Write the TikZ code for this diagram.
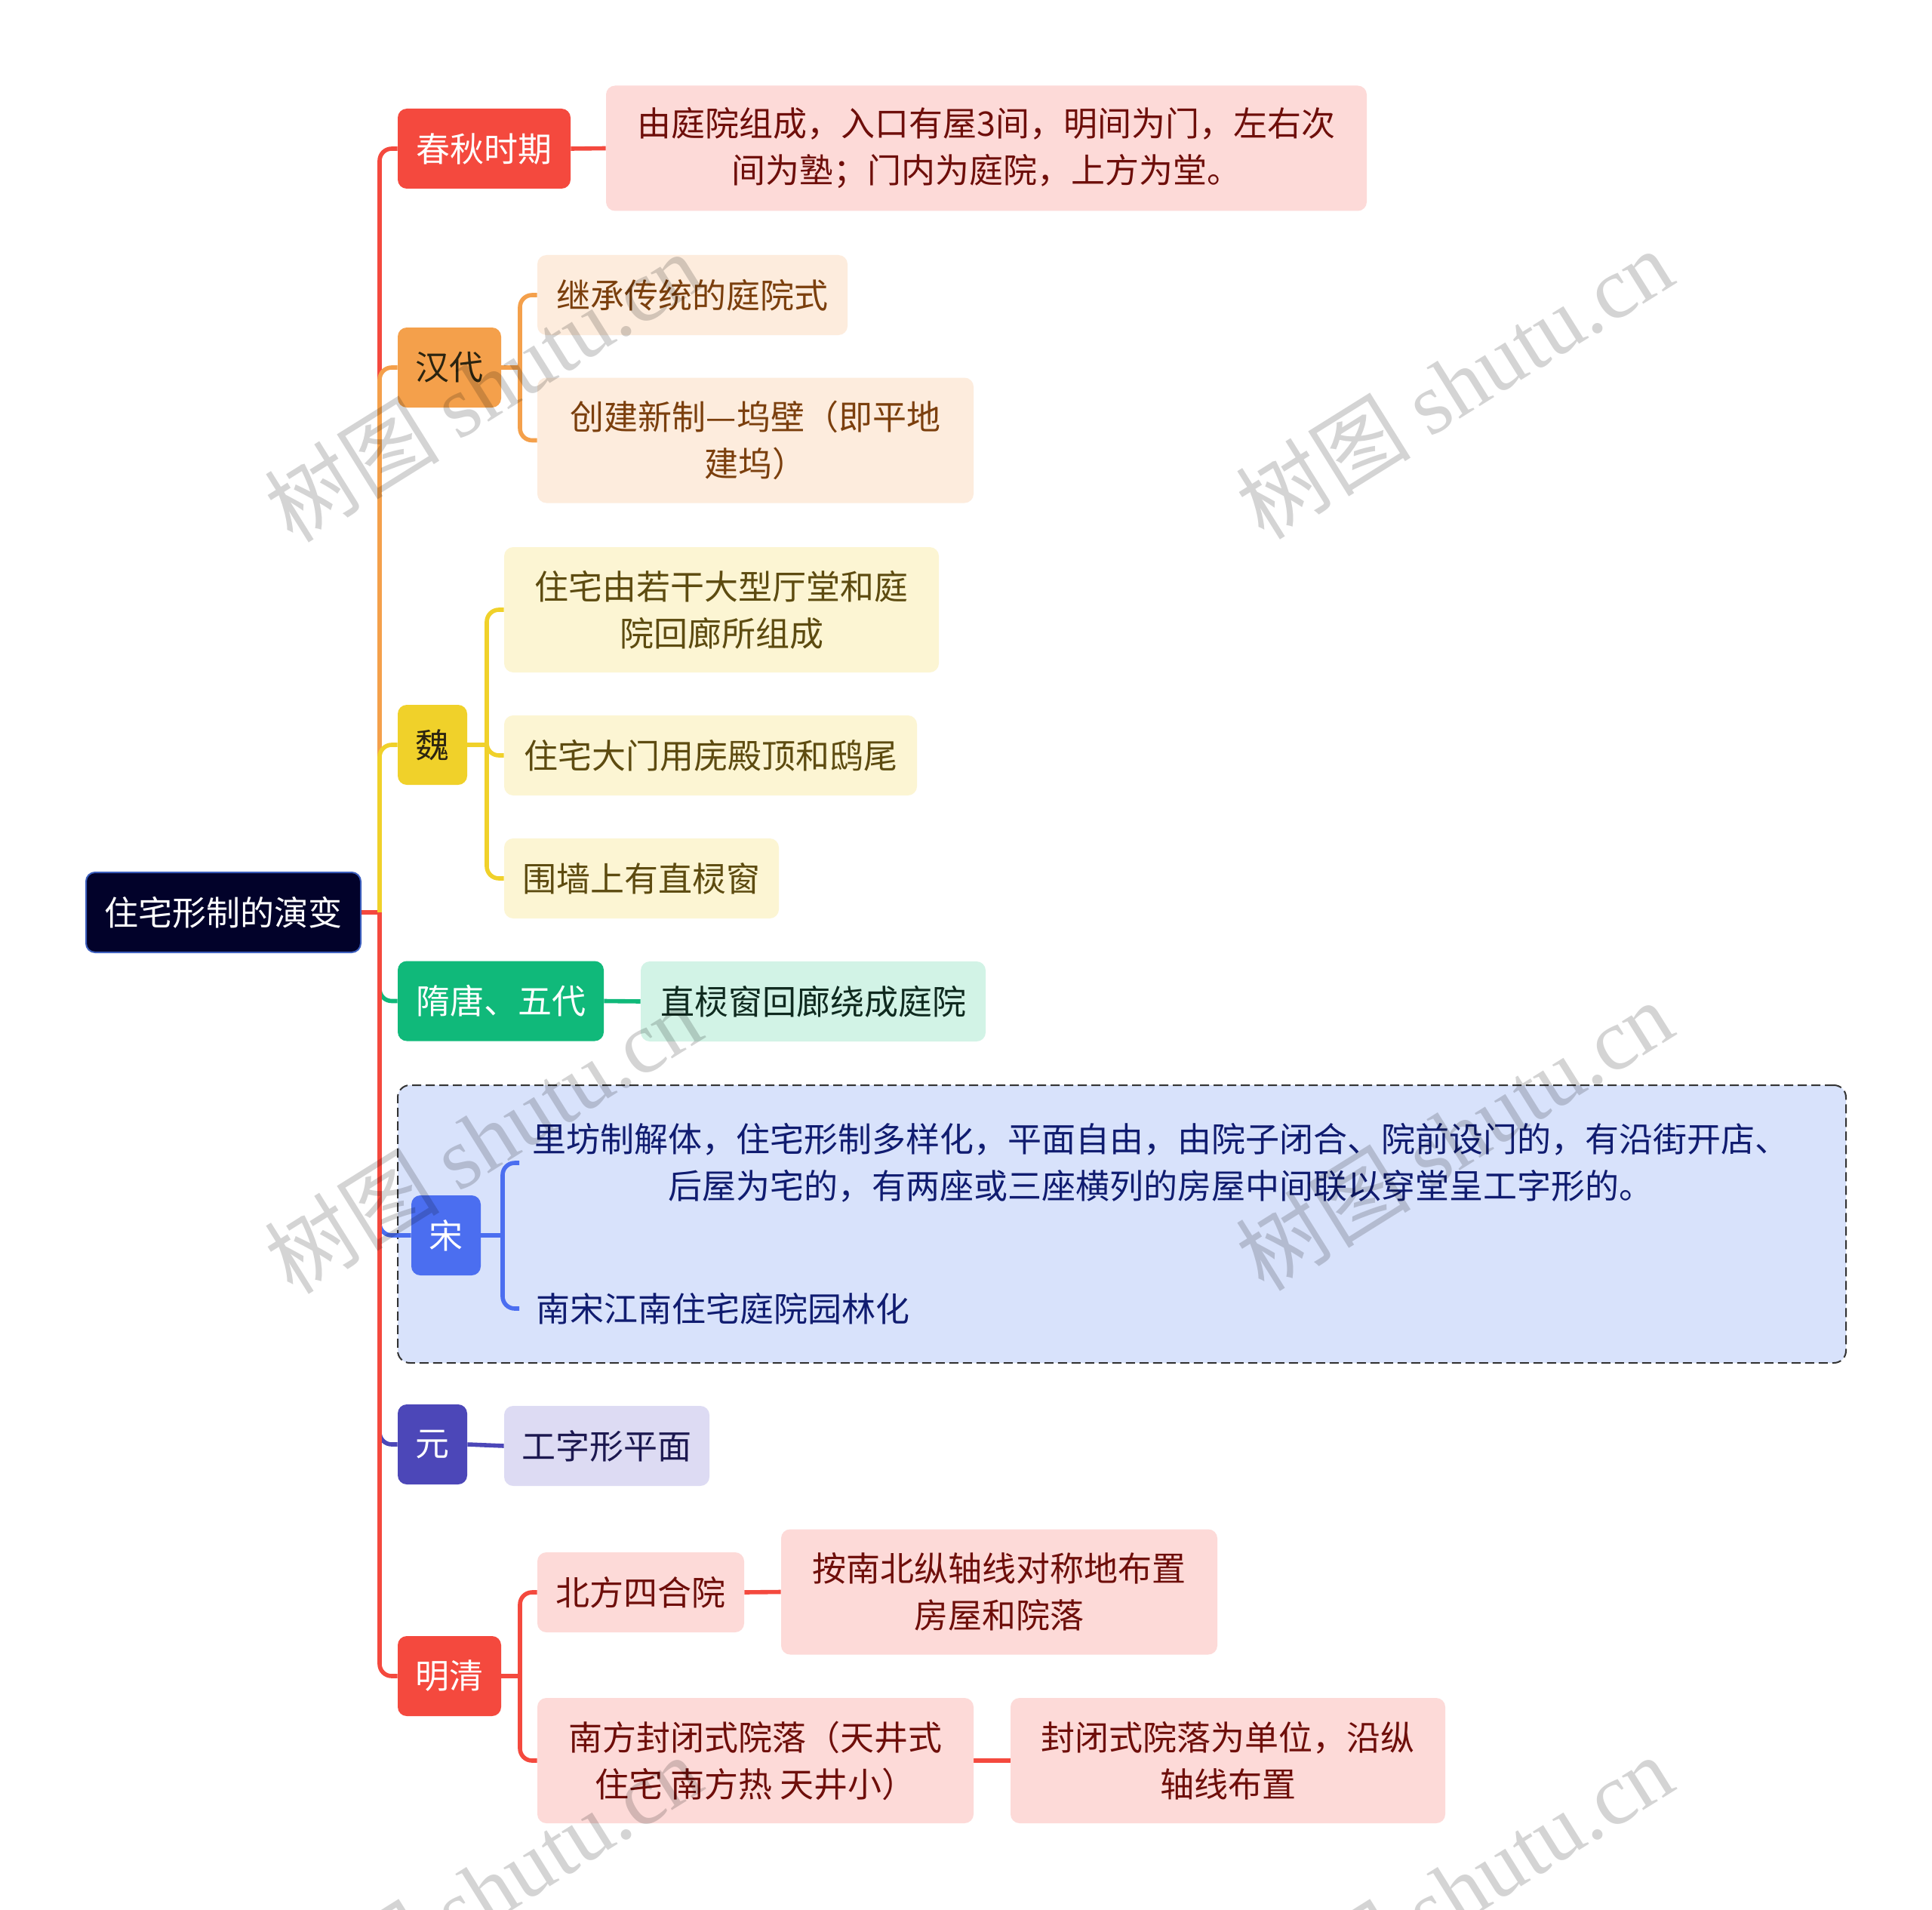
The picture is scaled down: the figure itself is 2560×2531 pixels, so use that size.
\documentclass[tikz,border=0pt]{standalone}
\usepackage{fontspec}
\setmainfont{Noto Sans CJK SC}
\newfontfamily\wmlatin{Liberation Serif}
\usetikzlibrary{backgrounds}
\definecolor{cRed}{HTML}{F4493E}
\definecolor{cRedL}{HTML}{FDDAD8}
\definecolor{cRedT}{HTML}{6E0E0A}
\definecolor{cOra}{HTML}{F4A04B}
\definecolor{cOraL}{HTML}{FDECDD}
\definecolor{cOraT}{HTML}{7B3F0D}
\definecolor{cYel}{HTML}{F0D12A}
\definecolor{cYelL}{HTML}{FCF5D3}
\definecolor{cYelT}{HTML}{5D4B10}
\definecolor{cGre}{HTML}{10B97A}
\definecolor{cGreL}{HTML}{D2F3E6}
\definecolor{cGreT}{HTML}{0F2A1F}
\definecolor{cBlu}{HTML}{4B6EF0}
\definecolor{cBluL}{HTML}{D8E2FB}
\definecolor{cBluT}{HTML}{101C70}
\definecolor{cPur}{HTML}{4C47B8}
\definecolor{cPurL}{HTML}{DDDBF3}
\definecolor{cPurT}{HTML}{1C1850}
\definecolor{cRoot}{HTML}{02022A}
\definecolor{cRootB}{HTML}{3C5EBD}
\definecolor{cDark}{HTML}{2B2410}
\begin{document}
\begin{tikzpicture}[x=0.5pt,y=-0.5pt,
  box/.style={rounded corners=6pt, inner sep=0pt, align=center,
    font=\fontsize{22.5pt}{31pt}\selectfont, minimum height=53pt},
  tall/.style={box, minimum height=83pt},
  con/.style={line width=2.8pt, rounded corners=8pt},
  wm/.style={rotate=32, text=black, text opacity=0.17,
    font=\fontsize{58pt}{66pt}\selectfont}]
\useasboundingbox (0,0) rectangle (2560,2531);
\begin{scope}[on background layer]
\fill[white] (0,0) rectangle (2560,2531);
% Song group background
\node[draw=black!80, dashed, dash pattern=on 6pt off 3pt, line width=1pt,
  fill=cBluL, rounded corners=8pt, minimum width=959.5pt, minimum height=184pt,
  inner sep=0pt] (songbox) at (1486.5,1622) {};
\end{scope}

% root
\node[box, fill=cRoot, draw=cRootB, line width=1pt, text=white, minimum width=182pt] (root) at (296,1209) {住宅形制的演变};

% level 1
\node[box, fill=cRed, text=white, minimum width=114.5pt] (cq) at (641.5,197) {春秋时期};
\node[box, fill=cOra, text=cDark, minimum width=68.5pt] (hd) at (595.5,487) {汉代};
\node[box, fill=cYel, text=cDark, minimum width=46pt] (wei) at (573,987) {魏};
\node[box, fill=cGre, text=white, minimum width=136.5pt] (st) at (663.5,1326.5) {隋唐、五代};
\node[box, fill=cBlu, text=white, minimum width=46pt] (song) at (591,1637) {宋};
\node[box, fill=cPur, text=white, minimum width=46pt] (yuan) at (573,1914) {元};
\node[box, fill=cRed, text=white, minimum width=68.5pt] (mq) at (595.5,2221) {明清};

% level 2
\node[tall, fill=cRedL, text=cRedT, minimum width=504pt] (cq1) at (1307,196.5) {由庭院组成，入口有屋3间，明间为门，左右次\\间为塾；门内为庭院，上方为堂。};
\node[box, fill=cOraL, text=cOraT, minimum width=205.5pt] (hd1) at (917.5,391) {继承传统的庭院式};
\node[tall, fill=cOraL, text=cOraT, minimum width=289pt] (hd2) at (1001,583.5) {创建新制—坞壁（即平地\\建坞）};
\node[tall, fill=cYelL, text=cYelT, minimum width=288pt] (wei1) at (956,808) {住宅由若干大型厅堂和庭\\院回廊所组成};
\node[box, fill=cYelL, text=cYelT, minimum width=273.5pt] (wei2) at (941.5,1001) {住宅大门用庑殿顶和鸱尾};
\node[box, fill=cYelL, text=cYelT, minimum width=182pt] (wei3) at (850,1164) {围墙上有直棂窗};
\node[box, fill=cGreL, text=cGreT, minimum width=228.5pt] (st1) at (1077.5,1327) {直棂窗回廊绕成庭院};
\node[tall, text=cBluT, minimum width=850pt, anchor=west] (song1) at (688,1541) {里坊制解体，住宅形制多样化，平面自由，由院子闭合、院前设门的，有沿街开店、\\后屋为宅的，有两座或三座横列的房屋中间联以穿堂呈工字形的。};
\node[box, text=cBluT, minimum width=270pt, anchor=west] (song2) at (688,1734) {南宋江南住宅庭院园林化};
\node[box, fill=cPurL, text=cPurT, minimum width=136pt] (yuan1) at (804,1916) {工字形平面};
\node[box, fill=cRedL, text=cRedT, minimum width=137pt] (mq1) at (849,2110) {北方四合院};
\node[tall, fill=cRedL, text=cRedT, minimum width=289pt] (mq11) at (1324,2109.5) {按南北纵轴线对称地布置\\房屋和院落};
\node[tall, fill=cRedL, text=cRedT, minimum width=289pt] (mq2) at (1001,2333) {南方封闭式院落（天井式\\住宅 南方热 天井小）};
\node[tall, fill=cRedL, text=cRedT, minimum width=288pt] (mq21) at (1627,2333) {封闭式院落为单位，沿纵\\轴线布置};

% junction coordinates
\coordinate (tr) at (503,1209);
\coordinate (hdj) at (689,487);
\coordinate (weij) at (645,987);
\coordinate (songj) at (666,1637);
\coordinate (mqj) at (689,2221);

% connectors (behind nodes)
\begin{scope}[on background layer]
\draw[con, cRed] (root.east) -- (tr);
\draw[con, cRed] (tr) |- (cq.west);
\draw[con, cRed] (cq.east) -- (cq1.west);
\draw[con, cOra] (tr) |- (hd.west);
\draw[con, cOra] (hd.east) -- (hdj);
\draw[con, cOra] (hdj) |- (hd1.west);
\draw[con, cOra] (hdj) |- (hd2.west);
\draw[con, cYel] (tr) |- (wei.west);
\draw[con, cYel] (wei.east) -- (weij);
\draw[con, cYel] (weij) |- (wei1.west);
\draw[con, cYel] (weij) |- (wei2.west);
\draw[con, cYel] (weij) |- (wei3.west);
\draw[con, cGre] (tr) |- (st.west);
\draw[con, cGre] (st.east) -- (st1.west);
\draw[con, cBlu] (tr) |- (song.west);
\draw[con, cBlu] (song.east) -- (songj);
\draw[con, cBlu] (songj) |- (song1.west);
\draw[con, cBlu] (songj) |- (song2.west);
\draw[con, cPur] (tr) |- (yuan.west);
\draw[con, cPur] (yuan.east) -- (yuan1.west);
\draw[con, cRed] (tr) |- (mq.west);
\draw[con, cRed] (mq.east) -- (mqj);
\draw[con, cRed] (mqj) |- (mq1.west);
\draw[con, cRed] (mqj) |- (mq2.west);
\draw[con, cRed] (mq1.east) -- (mq11.west);
\draw[con, cRed] (mq2.east) -- (mq21.west);
\end{scope}

% watermarks
\node[wm] (wm1) at (640,512) {树图 {\wmlatin shutu.cn}};
\node[wm] (wm2) at (1927,508) {树图 {\wmlatin shutu.cn}};
\node[wm] (wm3) at (640,1508) {树图 {\wmlatin shutu.cn}};
\node[wm] (wm4) at (1927,1504) {树图 {\wmlatin shutu.cn}};
\node[wm] (wm5) at (640,2504) {树图 {\wmlatin shutu.cn}};
\node[wm] (wm6) at (1927,2504) {树图 {\wmlatin shutu.cn}};
\end{tikzpicture}
\end{document}
